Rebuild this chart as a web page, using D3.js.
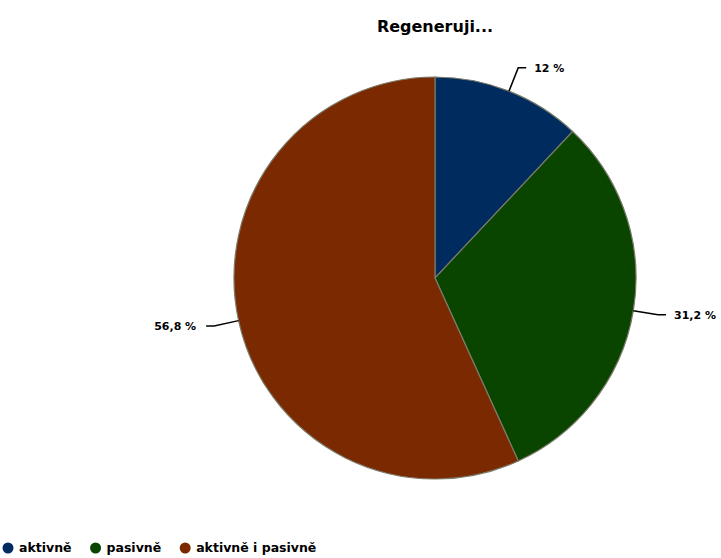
<!DOCTYPE html>
<html>
<head>
<meta charset="utf-8">
<script src="https://cdn.jsdelivr.net/npm/d3@7"></script>
<style>
  body { margin: 0; background: #fff; }
  svg { display: block; font-family: "DejaVu Sans", Verdana, sans-serif; }
</style>
</head>
<body>
<div id="chart"></div>
<script>
const title = 'Regeneruji...';
const categories = ['aktivně', 'pasivně', 'aktivně i pasivně'];
const values = [12, 31.2, 56.8];
const labels = ['12 %', '31,2 %', '56,8 %'];
const colors = ['#002b5e', '#0a4500', '#7b2900'];

const [w, h] = [721, 558];
const [cx, cy, r] = [435, 278, 201];

const svg = d3.select('#chart').append('svg')
  .attr('width', w).attr('height', h);

svg.append('text')
  .attr('x', cx).attr('y', 32)
  .attr('text-anchor', 'middle')
  .style('font-size', '16px').style('font-weight', 'bold')
  .text(title);

const pie = d3.pie().sort(null).value(d => d)(values);
const arc = d3.arc().innerRadius(0).outerRadius(r);

const g = svg.append('g').attr('transform', `translate(${cx},${cy})`);
g.selectAll('path').data(pie).enter().append('path')
  .attr('d', arc)
  .attr('fill', (d, i) => colors[i])
  .attr('stroke', '#7a7a6a')
  .attr('stroke-width', 1.2);

// connectors + labels
pie.forEach((d, i) => {
  const a = (d.startAngle + d.endAngle) / 2;
  const sx = Math.sin(a), sy = -Math.cos(a);
  const p0 = [sx * r, sy * r];
  const p1 = [sx * (r + 25), sy * (r + 25)];
  const right = sx >= 0;
  const p2 = [p1[0] + (right ? 8 : -8), p1[1]];
  g.append('path')
    .attr('d', d3.line()([p0, p1, p2]))
    .attr('fill', 'none')
    .attr('stroke', '#000')
    .attr('stroke-width', 1.5);
  g.append('text')
    .attr('x', p2[0] + (right ? 8 : -10))
    .attr('y', p2[1] + 4)
    .attr('text-anchor', right ? 'start' : 'end')
    .style('font-size', '11px').style('font-weight', 'bold')
    .text(labels[i]);
});

// legend
const legend = svg.append('g').attr('transform', 'translate(0,548)');
let lx = 3;
categories.forEach((c, i) => {
  legend.append('circle').attr('cx', lx + 5).attr('cy', 0).attr('r', 5.5)
    .attr('fill', colors[i]);
  const t = legend.append('text').attr('x', lx + 16).attr('y', 4)
    .style('font-size', '12.5px').style('font-weight', 'bold')
    .text(c);
  lx += 16 + t.node().getComputedTextLength() + 19;
});
</script>
</body>
</html>
